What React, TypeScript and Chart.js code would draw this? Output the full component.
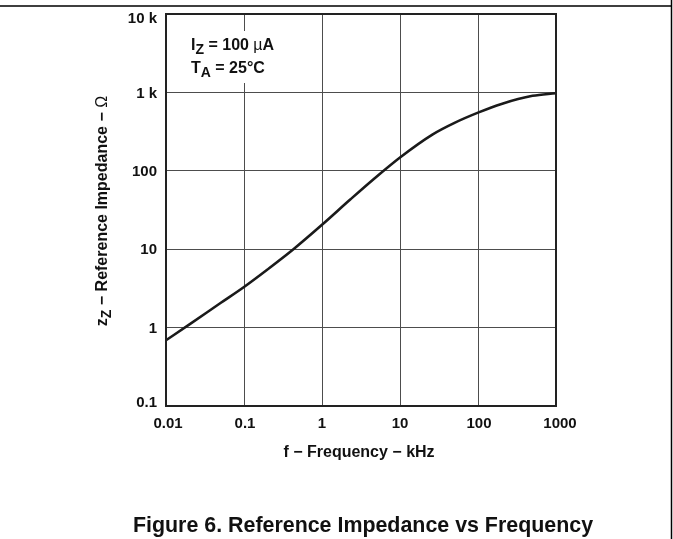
import React, { useEffect, useRef } from "react";
import { Chart, registerables } from "chart.js";

Chart.register(...registerables);

// ---- Data ----
const frequencyKHz = [0.01, 0.02, 0.05, 0.1, 0.2, 0.43, 1, 2.3, 4.5, 10, 26, 50, 100, 200, 500, 1000];
const impedanceOhm = [0.69, 1.1, 2.06, 3.3, 5.52, 10, 20.5, 43, 77, 148, 290, 409, 552, 713, 904, 977];

const xTickValues = [0.01, 0.1, 1, 10, 100, 1000];
const xTickLabels = ["0.01", "0.1", "1", "10", "100", "1000"];
const yTickValues = [0.1, 1, 10, 100, 1000, 10000];
const yTickLabels = ["0.1", "1", "10", "100", "1 k", "10 k"];

// ---- Styling ----
const FAMILY = '"Liberation Sans", Arial, Helvetica, sans-serif';
const TEXT = "#111111";
// small per-label nudges (px) of the end labels, as in the reference
const X_LABEL_NUDGE = [2, 1, 0, 0, 1, 4];
const Y_LABEL_NUDGE = [-3, 1, 1, 1, 1, 5];

type Run = { text: string; font: string; dy?: number };

function drawRuns(ctx: CanvasRenderingContext2D, runs: Run[], x: number, y: number, align: "left" | "center") {
  ctx.textAlign = "left";
  ctx.textBaseline = "alphabetic";
  let total = 0;
  for (const r of runs) {
    ctx.font = r.font;
    total += ctx.measureText(r.text).width;
  }
  let cx = align === "center" ? x - total / 2 : x;
  for (const r of runs) {
    ctx.font = r.font;
    ctx.fillText(r.text, cx, y + (r.dy || 0));
    cx += ctx.measureText(r.text).width;
  }
}

const labelNudgePlugin = {
  id: "labelNudge",
  beforeDraw(chart: any) {
    const apply = (scale: any, nudges: number[], axis: 0 | 1) => {
      if (!scale || !scale.getLabelItems) return;
      const items = scale.getLabelItems(chart.chartArea);
      items.forEach((it: any, i: number) => {
        if (it._nudged || !it.options || !it.options.translation) return;
        it.options.translation[axis] += nudges[i] || 0;
        it._nudged = true;
      });
    };
    apply(chart.scales.x, X_LABEL_NUDGE, 0);
    apply(chart.scales.y, Y_LABEL_NUDGE, 1);
  },
};

const decorPlugin = {
  id: "decor",
  afterDraw(chart: any) {
    const ctx: CanvasRenderingContext2D = chart.ctx;
    const area = chart.chartArea;
    ctx.save();

    const b16 = `bold 16px ${FAMILY}`;
    const b14 = `bold 14px ${FAMILY}`;
    const n16 = `16px ${FAMILY}`;

    // annotation box
    ctx.fillStyle = "#ffffff";
    ctx.fillRect(182, 31, 104, 52);
    ctx.fillStyle = TEXT;
    drawRuns(ctx, [
      { text: "I", font: b16 },
      { text: "Z", font: b14, dy: 4 },
      { text: " = 100 ", font: b16 },
      { text: "\u00b5", font: n16 },
      { text: "A", font: b16 },
    ], 191, 50, "left");
    drawRuns(ctx, [
      { text: "T", font: b16 },
      { text: "A", font: b14, dy: 4 },
      { text: " = 25\u00b0C", font: b16 },
    ], 191, 73, "left");

    // plot frame
    ctx.strokeStyle = "#222";
    ctx.lineWidth = 2;
    ctx.strokeRect(area.left, area.top, area.right - area.left, area.bottom - area.top);

    // x axis title
    drawRuns(ctx, [{ text: "f \u2212 Frequency \u2212 kHz", font: b16 }], 359, 457, "center");

    // y axis title (rotated)
    ctx.save();
    ctx.translate(107, 211);
    ctx.rotate(-Math.PI / 2);
    drawRuns(ctx, [
      { text: "z", font: b16 },
      { text: "Z", font: b14, dy: 4 },
      { text: " \u2212 Reference Impedance \u2212 ", font: b16 },
      { text: "\u03a9", font: n16 },
    ], 0, 0, "center");
    ctx.restore();

    // caption
    drawRuns(ctx, [{ text: "Figure 6. Reference Impedance vs Frequency", font: `bold 21.4px ${FAMILY}` }], 363, 532, "center");

    // page frame lines
    ctx.strokeStyle = "#000";
    ctx.lineWidth = 1.5;
    ctx.beginPath();
    ctx.moveTo(0, 6);
    ctx.lineTo(672, 6);
    ctx.moveTo(671.5, 0);
    ctx.lineTo(671.5, 539);
    ctx.stroke();
    ctx.restore();
  },
};

export default function App() {
  const canvasRef = useRef<HTMLCanvasElement | null>(null);

  useEffect(() => {
    const canvas = canvasRef.current;
    if (!canvas) return;
    const tickFont = { family: FAMILY, size: 15, weight: "bold" as const };
    const chart = new Chart(canvas, {
      type: "line",
      data: {
        datasets: [
          {
            data: frequencyKHz.map((f, i) => ({ x: f, y: impedanceOhm[i] })),
            borderColor: "#1a1a1a",
            borderWidth: 2.6,
            pointRadius: 0,
            fill: false,
            cubicInterpolationMode: "monotone",
          },
        ],
      },
      options: {
        responsive: false,
        animation: false,
        events: [],
        layout: { padding: { left: 0, top: 14, right: 117, bottom: 0 } },
        plugins: { legend: { display: false }, tooltip: { enabled: false }, title: { display: false } },
        scales: {
          x: {
            type: "logarithmic",
            min: 0.01,
            max: 1000,
            afterBuildTicks: (s: any) => {
              s.ticks = xTickValues.map((v) => ({ value: v }));
            },
            afterFit: (s: any) => {
              s.height = 133;
              s.paddingLeft = 0;
              s.paddingRight = 0;
            },
            ticks: {
              callback: (_v: any, i: number) => xTickLabels[i],
              font: tickFont,
              color: TEXT,
              padding: 9,
              maxRotation: 0,
              autoSkip: false,
            },
            grid: { color: "#4d4d4d", lineWidth: 1, drawTicks: false },
            border: { display: false },
          },
          y: {
            type: "logarithmic",
            min: 0.1,
            max: 10000,
            afterBuildTicks: (s: any) => {
              s.ticks = yTickValues.map((v) => ({ value: v }));
            },
            afterFit: (s: any) => {
              s.width = 166;
              s.paddingTop = 0;
              s.paddingBottom = 0;
            },
            ticks: {
              callback: (_v: any, i: number) => yTickLabels[i],
              font: tickFont,
              color: TEXT,
              padding: 9,
              autoSkip: false,
            },
            grid: { color: "#4d4d4d", lineWidth: 1, drawTicks: false },
            border: { display: false },
          },
        },
      } as any,
      plugins: [labelNudgePlugin, decorPlugin],
    });
    return () => chart.destroy();
  }, []);

  return (
    <div style={{ position: "fixed", left: 0, top: 0, width: 673, height: 539, background: "#fff" }}>
      <canvas ref={canvasRef} width={673} height={539} style={{ display: "block", width: 673, height: 539 }} />
    </div>
  );
}
